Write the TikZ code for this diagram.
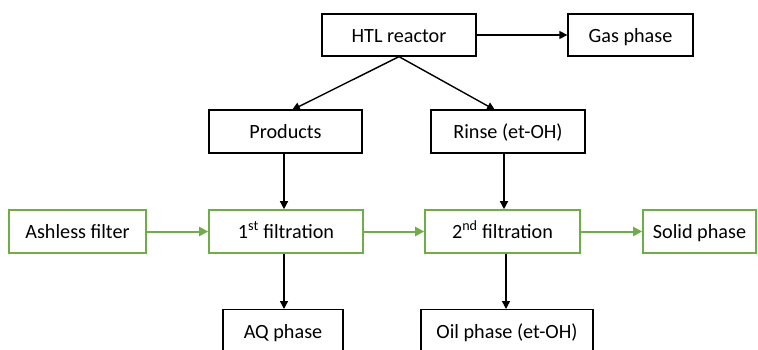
\documentclass[tikz,border=0pt]{standalone}
\usepackage{fontspec}
\setmainfont{Carlito}
\usetikzlibrary{arrows.meta}
\definecolor{ogreen}{RGB}{112,173,71}
\newcommand{\boxfont}{\fontsize{20.2}{23}\selectfont}
\tikzset{
  box/.style={draw=black, line width=1.3pt, fill=white, inner sep=0pt, font=\boxfont, text height=16pt, text depth=2pt},
  gbox/.style={box, draw=ogreen, line width=1.6pt},
  arr/.style={line width=1.4pt, -{Triangle[length=8pt,width=8pt]}},
  garr/.style={line width=2pt, draw=ogreen, -{Triangle[length=9pt,width=9pt,fill=ogreen]}},
}
\begin{document}
\begin{tikzpicture}[x=1pt,y=-1pt]
\clip (0,0) rectangle (758,349);
\fill[white] (0,0) rectangle (758,349);
\node[box, minimum width=154pt, minimum height=42pt] (htl) at (399,35) {HTL reactor};
\node[box, minimum width=125pt, minimum height=42pt] (gas) at (630.5,35) {Gas phase};
\node[box, minimum width=153pt, minimum height=43pt] (prod) at (285.5,131.5) {Products};
\node[box, minimum width=154pt, minimum height=43pt] (rinse) at (508,131.5) {Rinse (et-OH)};
\node[gbox, minimum width=137pt, minimum height=43pt] (ash) at (77.5,231.5) {Ashless filter};
\node[gbox, minimum width=154pt, minimum height=43pt] (f1) at (286,231.5) {1\textsuperscript{st} filtration};
\node[gbox, minimum width=155pt, minimum height=43pt] (f2) at (502.5,231.5) {2\textsuperscript{nd} filtration};
\node[gbox, minimum width=113pt, minimum height=43pt] (solid) at (699.5,231.5) {Solid phase};
\node[box, minimum width=120pt, minimum height=43pt, anchor=north] (aq) at (283,309) {};
\node[anchor=base, font=\boxfont] (aqt) at (283,338) {AQ phase};
\node[box, minimum width=172pt, minimum height=43pt, anchor=north] (oil) at (507,309) {};
\node[anchor=base, font=\boxfont] (oilt) at (507,338) {Oil phase (et-OH)};
\draw[arr] (htl.east) -- (gas.west);
\draw[arr] (htl.south) -- (292,110) coordinate (pa);
\draw[arr] (htl.south) -- (495,110) coordinate (ra);
\draw[arr] (prod.south -| 284,0) -- (f1.north -| 284,0);
\draw[arr] (rinse.south -| 504,0) -- (f2.north -| 504,0);
\draw[arr] (f1.south -| 284,0) -- (aq.north -| 284,0);
\draw[arr] (f2.south -| 506,0) -- (oil.north -| 506,0);
\draw[garr] (ash.east) -- (f1.west);
\draw[garr] (f1.east) -- (f2.west);
\draw[garr] (f2.east) -- (solid.west);
\end{tikzpicture}
\end{document}
